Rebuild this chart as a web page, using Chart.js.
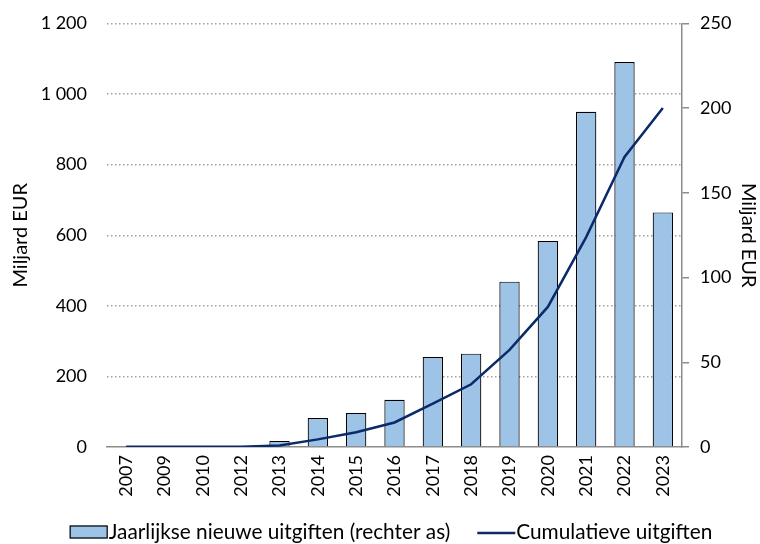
<!DOCTYPE html>
<html>
<head>
<meta charset="utf-8">
<script src="https://cdn.jsdelivr.net/npm/chart.js@4/dist/chart.umd.min.js"></script>
<style>
  html, body { margin: 0; padding: 0; background: #ffffff; }
  #wrap { width: 760px; height: 544px; position: relative; }
</style>
</head>
<body>
<div id="wrap"><canvas id="c" width="760" height="544"></canvas></div>
<script>
// Jaren
const years = ['2007', '2009', '2010', '2012', '2013', '2014', '2015', '2016',
               '2017', '2018', '2019', '2020', '2021', '2022', '2023'];

// Jaarlijkse nieuwe uitgiften, miljard EUR (rechter as)
const annualIssuance = [0.5, 0.1, 0.2, 0.1, 3.6, 17.1, 20.0, 27.9,
                        53.1, 55.1, 97.6, 121.6, 197.9, 227.3, 138.5];

// Cumulatieve uitgiften, miljard EUR (linker as)
const cumulativeIssuance = [0.5, 0.6, 0.8, 0.9, 4.5, 21.6, 41.6, 69.5,
                            122.6, 177.7, 275.3, 396.9, 594.8, 822.1, 960.6];

// Asverdeling
const leftTicks = [0, 200, 400, 600, 800, 1000, 1200];
const rightTicks = [0, 50, 100, 150, 200, 250];

const FONT = 'Lato, "Open Sans", "Liberation Sans", sans-serif';
const TEXT = '#000000';
const AXIS = '#8c8c8c';
const BAR_FILL = '#9dc3e6';
const LINE_COL = '#0b2a6a';

const fmtSpace = v => String(v).replace(/\B(?=(\d{3})+(?!\d))/g, ' ');

// Legenda onderaan: sleutel direct tegen de tekst aan
const bottomLegend = {
  id: 'bottomLegend',
  afterDraw(chart) {
    const ctx = chart.ctx;
    const font = '20.8px ' + FONT;
    const keyW = 38, keyH = 13, gap = 1, spacing = 27;
    const cy = chart.height - 12;
    ctx.save();
    ctx.font = font;
    const items = chart.data.datasets.map(ds => ({ ds, w: ctx.measureText(ds.label).width }));
    const total = items.reduce((s, it) => s + keyW + gap + it.w, 0) + spacing * (items.length - 1);
    let x = chart.width / 2 + 11 - total / 2;
    items.forEach(({ ds, w }) => {
      if (ds.type === 'bar') {
        ctx.fillStyle = BAR_FILL;
        ctx.fillRect(x, cy - keyH / 2, keyW, keyH);
        ctx.strokeStyle = '#000000';
        ctx.lineWidth = 1.2;
        ctx.strokeRect(x + 0.5, cy - keyH / 2 + 0.5, keyW - 1, keyH - 1);
      } else {
        ctx.strokeStyle = LINE_COL;
        ctx.lineWidth = 2.5;
        ctx.beginPath();
        ctx.moveTo(x, cy + 1);
        ctx.lineTo(x + keyW, cy + 1);
        ctx.stroke();
      }
      ctx.fillStyle = TEXT;
      ctx.textAlign = 'left';
      ctx.textBaseline = 'middle';
      ctx.fillText(ds.label, x + keyW + gap, cy);
      x += keyW + gap + w + spacing;
    });
    ctx.restore();
  }
};

new Chart(document.getElementById('c'), {
  data: {
    labels: years,
    datasets: [
      {
        type: 'bar',
        label: 'Jaarlijkse nieuwe uitgiften (rechter as)',
        data: annualIssuance,
        yAxisID: 'yR',
        backgroundColor: BAR_FILL,
        borderColor: '#000000',
        borderWidth: 1.2,
        barPercentage: 0.53,
        categoryPercentage: 1.0,
        order: 2
      },
      {
        type: 'line',
        label: 'Cumulatieve uitgiften',
        data: cumulativeIssuance,
        yAxisID: 'yL',
        borderColor: LINE_COL,
        backgroundColor: LINE_COL,
        borderWidth: 2.5,
        pointRadius: 0,
        tension: 0,
        order: 1
      }
    ]
  },
  plugins: [bottomLegend],
  options: {
    responsive: false,
    animation: false,
    devicePixelRatio: 1,
    layout: { padding: { left: 0, right: 0, top: 23.5, bottom: 35 } },
    plugins: {
      tooltip: { enabled: false },
      legend: { display: false }
    },
    scales: {
      x: {
        offset: true,
        grid: { display: false, drawTicks: false },
        border: { display: true, color: AXIS, width: 1.5 },
        ticks: {
          color: TEXT,
          font: { family: FONT, size: 18 },
          maxRotation: 90,
          minRotation: 90,
          padding: 8,
          autoSkip: false
        },
        afterFit(scale) { scale.height = 62; }
      },
      yL: {
        position: 'left',
        min: 0,
        max: 1200,
        afterBuildTicks(scale) { scale.ticks = leftTicks.map(v => ({ value: v })); },
        grid: {
          drawTicks: false,
          color: ctx => ctx.tick && ctx.tick.value === 0 ? 'rgba(0,0,0,0)' : '#a0a0a0',
          lineWidth: 1.5
        },
        border: { display: false, dash: [1.5, 2.5] },
        ticks: {
          color: TEXT,
          font: { family: FONT, size: 18 },
          padding: 20,
          callback: v => fmtSpace(v)
        },
        title: {
          display: true,
          text: 'Miljard EUR',
          color: TEXT,
          font: { family: FONT, size: 20 },
          padding: { top: 9, bottom: 0 }
        },
        afterFit(scale) {
          scale.width = 107;
          scale.paddingTop = 0;
          scale.paddingBottom = 0;
        }
      },
      yR: {
        position: 'right',
        min: 0,
        max: 250,
        afterBuildTicks(scale) { scale.ticks = rightTicks.map(v => ({ value: v })); },
        grid: {
          drawOnChartArea: false,
          drawTicks: true,
          tickLength: 7,
          color: AXIS,
          lineWidth: 1.5
        },
        border: { display: true, color: AXIS, width: 1.5 },
        ticks: {
          color: TEXT,
          font: { family: FONT, size: 18 },
          padding: 11
        },
        title: {
          display: true,
          text: 'Miljard EUR',
          color: TEXT,
          font: { family: FONT, size: 20 },
          padding: { top: 0, bottom: 4 }
        },
        afterFit(scale) {
          scale.width = 78;
          scale.paddingTop = 0;
          scale.paddingBottom = 0;
        }
      }
    }
  }
});
</script>
</body>
</html>
